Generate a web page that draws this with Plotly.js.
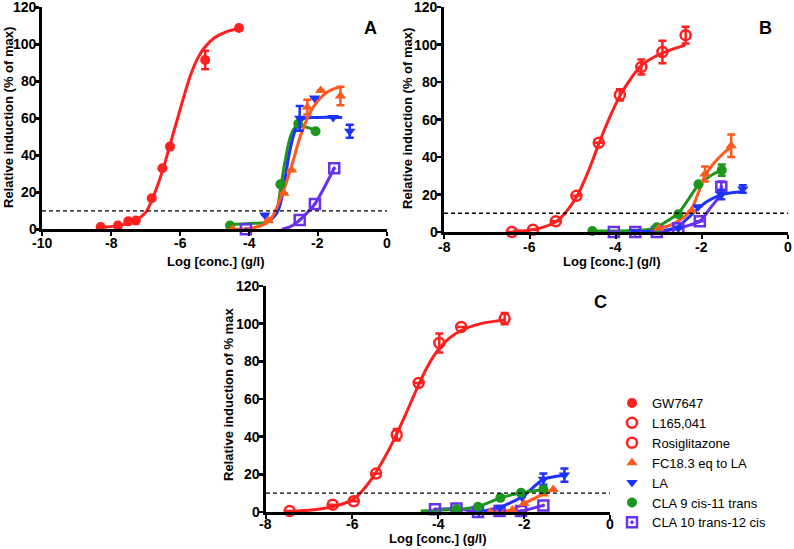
<!DOCTYPE html>
<html><head><meta charset="utf-8">
<script src="https://cdn.plot.ly/plotly-3.0.1.min.js"></script>
<style>html,body{margin:0;padding:0;background:#fff}#chart{width:794px;height:549px}</style>
</head><body><div id="chart"></div>
<script>
// ---------- Panel A ----------
var A_GW_x = [-8.3,-7.8,-7.5,-7.28,-6.82,-6.51,-6.29,-5.27,-4.29];
var A_GW_y = [1.3,2,4.3,4.7,16.8,33,44.7,91.5,108.8];
var A_GW_err = [0,0,0,0,0,0,0,5,0];
var A_GW_fitx = [-8.32,-7.8,-7.3,-7.0,-6.8,-6.5,-6.3,-6.1,-5.9,-5.7,-5.5,-5.3,-5.0,-4.7,-4.29];
var A_GW_fity = [1,2,4.7,9,16.5,32,45,58,71,83,92,98,103.5,106.5,108.5];

var A_FC_x = [-4.48,-3.44,-2.99,-2.77,-2.31,-1.92,-1.35];
var A_FC_y = [0,4.7,19.5,32,66,75,72];
var A_FC_err = [0,0,0,0,4,0,5];
var A_FC_fitx = [-4.48,-3.9,-3.44,-3.1,-2.77,-2.48,-2.14,-1.75,-1.35];
var A_FC_fity = [0,0.8,4,16,34,52,66,74,77];

var A_LA_x = [-3.54,-2.53,-2.1,-1.56,-1.08];
var A_LA_y = [7.7,60,71,60.5,53];
var A_LA_err = [0,6.7,0,0,3.5];
var A_LA_fitx = [-3.55,-3.2,-3.05,-2.96,-2.87,-2.77,-2.67,-2.57,-2.4,-2.0,-1.3];
var A_LA_fity = [3,8.6,17,26.7,37,46.5,53,57.3,60,60.5,60.5];

var A_C9_x = [-4.55,-3.09,-2.57,-2.07];
var A_C9_y = [2,24.3,57,53];
var A_C9_fitx = [-4.55,-4.0,-3.6,-3.35,-3.2,-3.1,-3.0,-2.9,-2.8,-2.67,-2.5,-2.3,-2.07];
var A_C9_fity = [2.5,3.2,3.5,5.5,10,20,32,42,50,55,56,55,53.5];

var A_C10_x = [-4.09,-2.53,-2.09,-1.53];
var A_C10_y = [0,5,13.7,33];
var A_C10_fitx = [-3.05,-2.8,-2.53,-2.09,-1.53];
var A_C10_fity = [0,1.5,5,13.7,33];

// ---------- Panel B ----------
var B_L165_x = [-6.42,-5.93,-5.40,-4.92,-4.40,-3.91,-3.41,-2.92,-2.38];
var B_L165_y = [0,1.2,5.7,19.3,47.6,73.1,88,96,105];
var B_L165_err = [0,0,0,0,0,3,4,6,4.5];
var B_L165_fitx = [-6.4,-5.9,-5.4,-5.15,-4.9,-4.65,-4.4,-4.15,-3.9,-3.65,-3.4,-3.1,-2.8,-2.38];
var B_L165_fity = [0.5,1.4,5.5,11,19.5,32,47,61,73,82,89,93.5,96.5,99.8];

var B_C9_x = [-4.55,-3.05,-2.55,-2.08,-1.54];
var B_C9_y = [0.5,2.5,9.5,25.5,33];
var B_C9_err = [0,0,0,0,3];
var B_C9_fitx = [-4.55,-3.6,-3.1,-2.8,-2.55,-2.3,-2.08,-1.8,-1.54];
var B_C9_fity = [0.5,0.8,2,6,10,18,25,30,33];

var B_FC_x = [-3.0,-2.24,-1.93,-1.32];
var B_FC_y = [2,11.4,31,46];
var B_FC_err = [0,0,4,6];
var B_FC_fitx = [-3.0,-2.75,-2.5,-2.25,-2.1,-1.93,-1.75,-1.5,-1.32];
var B_FC_fity = [2,3.5,6.5,12,20,30,36,42,45.5];

var B_LA_x = [-3.55,-2.55,-2.09,-1.55,-1.05];
var B_LA_y = [0.3,2,13.5,20,23];
var B_LA_err = [0,0,0,2.5,2];
var B_LA_fitx = [-3.55,-3.0,-2.6,-2.3,-2.09,-1.9,-1.7,-1.5,-1.3,-1.05];
var B_LA_fity = [0.3,0.5,2.5,8,12.5,16,18.5,20.2,21,21.5];

var B_C10_x = [-4.05,-3.55,-3.05,-2.55,-2.05,-1.55];
var B_C10_y = [0,0,0,2,5.7,24];
var B_C10_err = [0,0,0,0,0,3];
var B_C10_fitx = [-4.05,-3.05,-2.55,-2.05,-1.8,-1.55];
var B_C10_fity = [0,0,2,5.7,13,20];

// ---------- Panel C ----------
var C_RO_x = [-7.45,-6.45,-5.96,-5.44,-4.96,-4.45,-3.97,-3.46,-2.45];
var C_RO_y = [0.5,3.9,5.7,20.4,41,68.5,89.7,98.2,102.7];
var C_RO_err = [0,0,0,0,3,0,5,0,3];
var C_RO_fitx = [-7.45,-6.9,-6.45,-6.0,-5.75,-5.5,-5.25,-5.0,-4.75,-4.5,-4.25,-4.0,-3.75,-3.45,-3.0,-2.45];
var C_RO_fity = [0.3,1.2,2.8,6.3,11.5,19,28.5,39.5,52,65,77,86,92,96.5,100,102];

var C_C9_x = [-3.57,-3.07,-2.55,-2.07,-1.55];
var C_C9_y = [1.4,2.8,7.5,10.2,12];
var C_C9_fitx = [-4.4,-4.05,-3.57,-3.07,-2.55,-2.07,-1.55];
var C_C9_fity = [0.5,0.8,1.4,2.8,7.5,10.2,12];

var C_LA_x = [-3.05,-2.55,-2.05,-1.55,-1.06];
var C_LA_y = [0,2.5,8,17.4,19.6];
var C_LA_err = [0,0,0,3,3.5];

var C_FC_x = [-3.02,-2.78,-2.27,-2.0,-1.55,-1.32];
var C_FC_y = [0,0,1,4.5,9.5,12];

var C_C10_x = [-4.07,-3.57,-3.07,-2.57,-2.07,-1.55];
var C_C10_y = [1.4,1.8,0,0.5,0.5,3.5];

var THRESHOLD = 10;
var Y_TICKS = [0,20,40,60,80,100,120];
var A_XTICKS = [-10,-8,-6,-4,-2,0];
var BC_XTICKS = [-8,-6,-4,-2,0];
var NAMES = ['GW7647','L165,041','Rosiglitazone','FC18.3 eq to LA','LA','CLA 9 cis-11 trans','CLA 10 trans-12 cis'];
var PANEL_LABELS = ['A','B','C'];
var X_TITLE = 'Log [conc.] (g/l)';
var Y_TITLE_AB = 'Relative induction (% of max)';
var Y_TITLE_C = 'Relative induction of % max';

// ---------- styles ----------
var RED='#ff1f1f', ORANGE='#ff5a1e', BLUE='#1e32ff', GREEN='#1e961e', PURPLE='#6a30f0';
var FONT='Liberation Sans, Arial, sans-serif';
var traces=[];
function curve(x,y,c,xa,ya,sm){
  traces.push({x:x,y:y,xaxis:xa,yaxis:ya,mode:'lines',type:'scatter',showlegend:false,hoverinfo:'skip',
    line:{color:c,width:3,shape:'spline',smoothing:sm===undefined?1:sm},cliponaxis:false});
}
function pts(x,y,err,c,sym,xa,ya,name,rank,mline){
  var t={x:x,y:y,xaxis:xa,yaxis:ya,mode:'markers',type:'scatter',name:name||'',showlegend:!!name,
    legendrank:rank||1000,cliponaxis:false,
    marker:{color:c,symbol:sym,size:10,line:{color:c,width:mline||0}}};
  if(err){t.error_y={type:'data',array:err,visible:true,color:c,thickness:2.5,width:4};}
  traces.push(t);
}
// Panel A
curve(A_GW_fitx,A_GW_fity,RED,'x','y');
curve(A_C10_fitx,A_C10_fity,PURPLE,'x','y',0.6);
curve(A_C9_fitx,A_C9_fity,GREEN,'x','y');
curve(A_LA_fitx,A_LA_fity,BLUE,'x','y');
curve(A_FC_fitx,A_FC_fity,ORANGE,'x','y');
pts(A_GW_x,A_GW_y,A_GW_err,RED,'circle','x','y',NAMES[0],1);
pts(A_C10_x,A_C10_y,null,PURPLE,'square-open-dot','x','y',null,0,2.5);
pts(A_C9_x,A_C9_y,null,GREEN,'circle','x','y');
pts(A_LA_x,A_LA_y,A_LA_err,BLUE,'triangle-down','x','y');
pts(A_FC_x,A_FC_y,A_FC_err,ORANGE,'triangle-up','x','y');
// Panel B
curve(B_L165_fitx,B_L165_fity,RED,'x2','y2');
curve(B_C10_fitx,B_C10_fity,PURPLE,'x2','y2',0.6);
curve(B_C9_fitx,B_C9_fity,GREEN,'x2','y2');
curve(B_LA_fitx,B_LA_fity,BLUE,'x2','y2');
curve(B_FC_fitx,B_FC_fity,ORANGE,'x2','y2');
pts(B_L165_x,B_L165_y,B_L165_err,RED,'circle-open','x2','y2',NAMES[1],2,2.5);
pts(B_C10_x,B_C10_y,B_C10_err,PURPLE,'square-open-dot','x2','y2',null,0,2.5);
pts(B_C9_x,B_C9_y,B_C9_err,GREEN,'circle','x2','y2');
pts(B_LA_x,B_LA_y,B_LA_err,BLUE,'triangle-down','x2','y2');
pts(B_FC_x,B_FC_y,B_FC_err,ORANGE,'triangle-up','x2','y2');
// Panel C
curve(C_RO_fitx,C_RO_fity,RED,'x3','y3');
curve(C_C10_x,C_C10_y,PURPLE,'x3','y3',0.4);
curve(C_FC_x,C_FC_y,ORANGE,'x3','y3',0.4);
curve(C_LA_x,C_LA_y,BLUE,'x3','y3',0.4);
curve(C_C9_fitx,C_C9_fity,GREEN,'x3','y3',0.4);
pts(C_RO_x,C_RO_y,C_RO_err,RED,'circle-open','x3','y3',NAMES[2],3,2.5);
pts(C_C10_x,C_C10_y,null,PURPLE,'square-open-dot','x3','y3',NAMES[6],7,2.5);
pts(C_FC_x,C_FC_y,null,ORANGE,'triangle-up','x3','y3',NAMES[3],4);
pts(C_LA_x,C_LA_y,C_LA_err,BLUE,'triangle-down','x3','y3',NAMES[4],5);
pts(C_C9_x,C_C9_y,null,GREEN,'circle','x3','y3',NAMES[5],6);

function xax(dom,range,tv,anchor){
  return {domain:dom,range:range,tickvals:tv,anchor:anchor,showline:true,linewidth:3,linecolor:'#000',
    ticks:'outside',ticklen:4,tickwidth:2.5,tickcolor:'#000',showgrid:false,zeroline:false,showticklabels:false};
}
function yax(dom,anchor){
  return {domain:dom,range:[0,120],tickvals:Y_TICKS,anchor:anchor,showline:true,linewidth:3,linecolor:'#000',
    ticks:'outside',ticklen:4,tickwidth:2.5,tickcolor:'#000',showgrid:false,zeroline:false,showticklabels:false};
}
function dash(xa,ya,x0){
  return {type:'line',xref:xa,yref:ya,x0:x0,x1:0,y0:THRESHOLD,y1:THRESHOLD,
    line:{color:'#000',width:1.3,dash:'4px,3px'},layer:'above'};
}
function ann(text,px,py,size,angle){
  return {text:text,xref:'paper',yref:'paper',x:px/794,y:1-py/549,showarrow:false,xanchor:'center',yanchor:'middle',
    textangle:angle||0,font:{family:FONT,size:size,weight:'bold',color:'#000'},borderpad:0};
}
var TICK_SIZE=14;
var annotations=[
  ann(PANEL_LABELS[0],370.5,27.7,18),
  ann(PANEL_LABELS[1],765,28,18),
  ann(PANEL_LABELS[2],600,302,18),
  ann(X_TITLE,215,261,13),
  ann(X_TITLE,611,261,13),
  ann(X_TITLE,438,538,13),
  ann(Y_TITLE_AB,9,118,13,-90),
  ann(Y_TITLE_AB,408,119,13,-90),
  ann(Y_TITLE_C,228,395,13,-90)
];
function xticklabels(vals,xa,py){
  vals.forEach(function(v){
    annotations.push({text:String(v),xref:xa,yref:'paper',x:v,y:1-py/549,showarrow:false,xanchor:'center',yanchor:'middle',
      borderpad:0,font:{family:FONT,size:TICK_SIZE,weight:'bold',color:'#000'}});
  });
}
function yticklabels(vals,ya,px){
  vals.forEach(function(v){
    annotations.push({text:String(v),xref:'paper',yref:ya,x:px/794,y:v,showarrow:false,xanchor:'right',yanchor:'middle',
      borderpad:0,font:{family:FONT,size:TICK_SIZE,weight:'bold',color:'#000'}});
  });
}
xticklabels(A_XTICKS,'x',243);
xticklabels(BC_XTICKS,'x2',247);
xticklabels(BC_XTICKS,'x3',524);
yticklabels(Y_TICKS,'y',37.5);
yticklabels(Y_TICKS,'y2',439);
yticklabels(Y_TICKS,'y3',261);

var layout={
  width:794,height:549,margin:{l:0,r:0,t:0,b:0},paper_bgcolor:'#fff',plot_bgcolor:'rgba(0,0,0,0)',
  font:{family:FONT,color:'#000'},
  xaxis:xax([0.0529,0.4874],[-10,0],A_XTICKS,'y'),
  yaxis:yax([0.5823,0.9867],'x'),
  xaxis2:xax([0.5592,0.9924],[-8,0],BC_XTICKS,'y2'),
  yaxis2:yax([0.5774,0.9872],'x2'),
  xaxis3:xax([0.335,0.7683],[-8,0],BC_XTICKS,'y3'),
  yaxis3:yax([0.0674,0.4791],'x3'),
  shapes:[dash('x','y',-10),dash('x2','y2',-8),dash('x3','y3',-8)],
  annotations:annotations,
  legend:{x:612/794,y:1-388/549,xanchor:'left',yanchor:'top',font:{family:FONT,size:13,color:'#000'},
    bgcolor:'rgba(0,0,0,0)',tracegroupgap:0,itemwidth:30},
  showlegend:true
};
Plotly.newPlot('chart',traces,layout,{staticPlot:true,displayModeBar:false});
</script></body></html>
